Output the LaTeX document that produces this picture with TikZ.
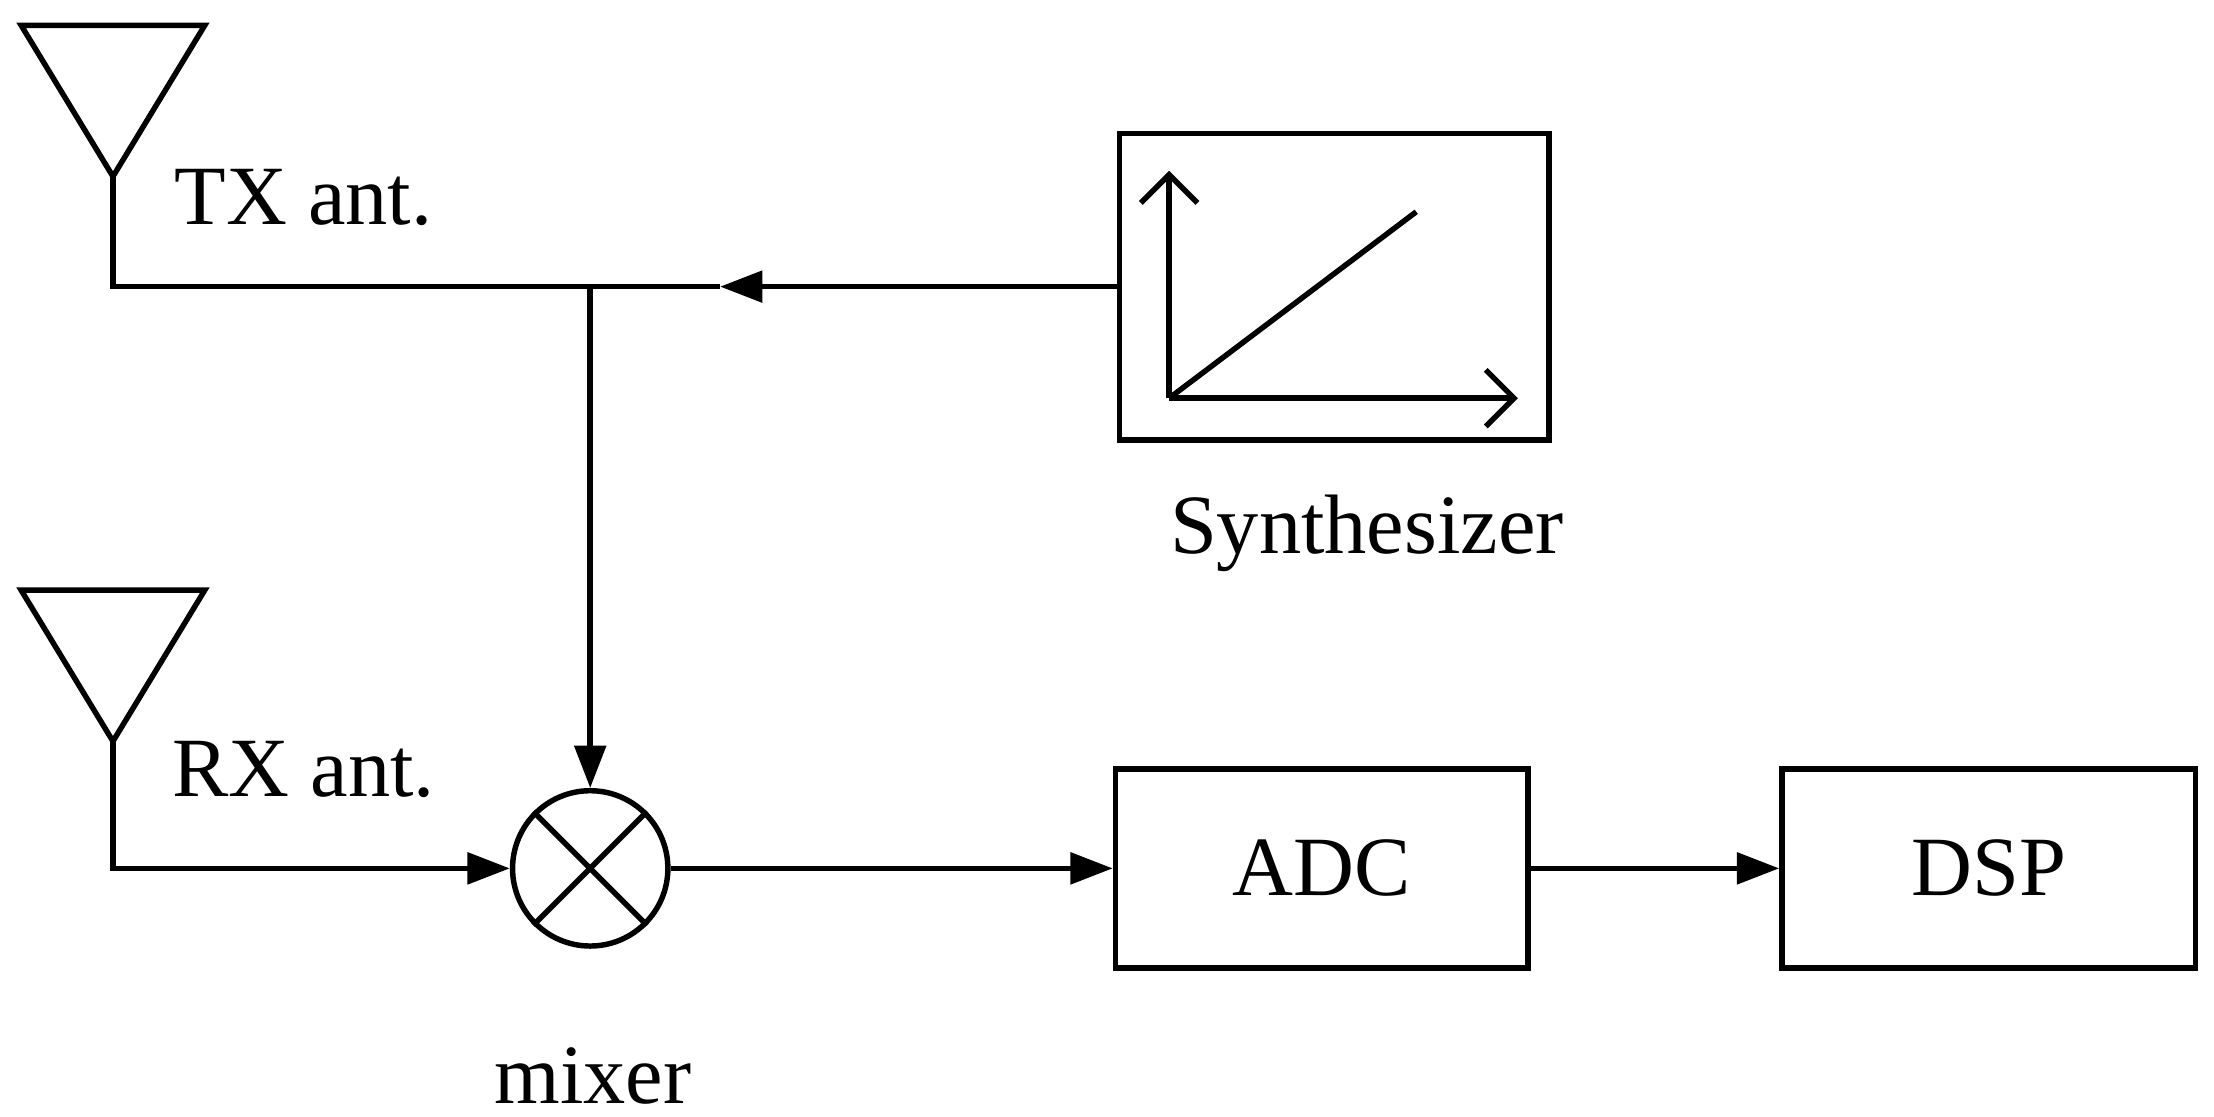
\documentclass[tikz,border=0pt]{standalone}
\usepackage{fontspec}
\setmainfont{Liberation Serif}
\usetikzlibrary{arrows.meta}
\begin{document}
\begin{tikzpicture}[
    line width=1.1pt,
    tip/.style = {-{Triangle[length=3mm,width=2.2mm]}},
    blk/.style = {draw, minimum width=#1, minimum height=1.41cm, inner sep=0pt},
    lbl/.style = {font=\fontsize{17}{20}\selectfont}
                        ]
\useasboundingbox (0,0) rectangle (15.68,7.91);
% antennas
\coordinate (tx) at (0.80,6.66);
\coordinate (rx) at (0.80,2.66);
\draw (tx) -- (0.15,7.73) -- (1.45,7.73) -- cycle;
\draw (rx) -- (0.15,7.73-4) -- (1.45,7.73-4) -- cycle;
\node[lbl] (txl) at (2.15,6.51) {TX ant.};
\node[lbl] (rxl) at (2.15,2.46) {RX ant.};
% blocks
\node[blk=3.04cm, minimum height=2.17cm] (syn) at (9.45,5.88) {};
\node[lbl] (synl) at (9.68,4.13) {Synthesizer};
\node[draw, circle, minimum size=1.1cm, inner sep=0pt] (mix) at (4.18,1.76) {};
\draw (mix.45) -- (mix.225) (mix.135) -- (mix.315);
\node[lbl] (mixl) at (4.20,0.29) {mixer};
\node[blk=2.92cm, lbl] (adc) at (9.36,1.76) {ADC};
\node[blk=2.93cm, lbl] (dsp) at (14.085,1.76) {DSP};
% synthesizer plot
\coordinate (o) at (8.28,5.09);
\draw[-{Straight Barb[length=2mm,width=4mm]}] (o) -- (8.28,6.70);
\draw[-{Straight Barb[length=2mm,width=4mm]}] (o) -- (10.75,5.09);
\draw (o) -- (10.03,6.41);
% wiring
\coordinate (jn) at (4.18,5.88);
\coordinate (ar) at (5.10,5.88);
\draw (tx) |- (jn) -- (ar);
\draw[tip] (syn.west) -- (ar);
\draw[tip] (jn) -- (mix.north);
\draw[tip] (rx) |- (mix.west);
\draw[tip] (mix.east) -- (adc.west);
\draw[tip] (adc.east) -- (dsp.west);
\end{tikzpicture}
\end{document}
